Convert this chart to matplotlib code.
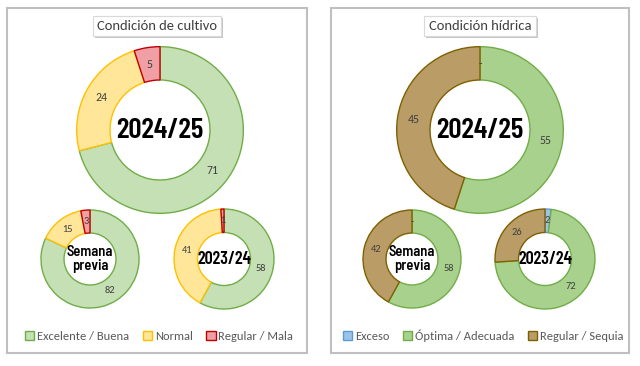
import matplotlib.pyplot as plt
import matplotlib.patheffects as pe
from matplotlib.patches import Patch, Rectangle

# condicion de cultivo (%)
cultivo_labels = ["Excelente / Buena", "Normal", "Regular / Mala"]
cultivo_actual = [71, 24, 5]
cultivo_previa = [82, 15, 3]
cultivo_anterior = [58, 41, 1]

# condicion hidrica (%)
hidrica_labels = ["Exceso", "Óptima / Adecuada", "Regular / Sequia"]
hidrica_actual = [0, 55, 45]
hidrica_previa = [0, 58, 42]
hidrica_anterior = [2, 72, 26]

cultivo_fill = ["#C5E0B4", "#FFE699", "#F0A0A4"]
cultivo_edge = ["#70AD47", "#FFC000", "#C00000"]
hidrica_fill = ["#9DC3E6", "#A9D18E", "#B99C66"]
hidrica_edge = ["#5B9BD5", "#70AD47", "#7F6000"]

label_font = ["Carlito", "Open Sans", "DejaVu Sans"]
year_font = ["Barlow Condensed", "Roboto", "DejaVu Sans"]
week_font = ["Barlow Semi Condensed", "Roboto", "DejaVu Sans"]

W, H = 640, 366
fig = plt.figure(figsize=(W / 100, H / 100), dpi=100)
fig.patch.set_facecolor("white")


def px_axes(cx, cy, r):
    ax = fig.add_axes([(cx - r) / W, (H - cy - r) / H, 2 * r / W, 2 * r / H])
    ax.axis("off")
    return ax


def donut(cx, cy, r, values, fills, edges, center, cfont, csize, ring, lsize):
    ax = px_axes(cx, cy, r)
    wedges, _, autotexts = ax.pie(
        values, colors=fills, startangle=90, counterclock=False, radius=1,
        wedgeprops=dict(width=ring, linewidth=1.0),
        autopct=lambda p: "-" if p < 0.5 else "%d" % round(p),
        pctdistance=1 - ring / 2,
        textprops=dict(fontsize=lsize, color="#404040", family=label_font),
    )
    for w, e in zip(wedges, edges):
        w.set_edgecolor(e)
    ax.set_xlim(-1.02, 1.02)
    ax.set_ylim(-1.02, 1.02)
    ax.set_aspect("equal")
    ax.text(0, 0, center, ha="center", va="center", fontsize=csize,
            fontweight=600, family=cfont, color="black", linespacing=1.0)


def panel(x0, x1, y0, y1):
    fig.patches.append(Rectangle((x0 / W, 1 - y1 / H), (x1 - x0) / W, (y1 - y0) / H,
                                 transform=fig.transFigure, fill=False,
                                 edgecolor="#BFBFBF", linewidth=1.5))


def title(cx, cy, txt):
    t = fig.text(cx / W, 1 - cy / H, txt, ha="center", va="center",
                 fontsize=10.5, family=label_font, color="#404040",
                 bbox=dict(boxstyle="square,pad=0.3", facecolor="white",
                           edgecolor="#D9D9D9", linewidth=0.8))
    t.get_bbox_patch().set_path_effects(
        [pe.SimplePatchShadow(offset=(1.5, -1.5), shadow_rgbFace="#A0A0A0", alpha=0.6),
         pe.Normal()])


def legend(cx, cy, labels, fills, edges):
    handles = [Patch(facecolor=f, edgecolor=e, linewidth=1.0, label=l)
               for l, f, e in zip(labels, fills, edges)]
    fig.legend(handles=handles, loc="center", bbox_to_anchor=(cx / W, 1 - cy / H),
               ncol=3, frameon=False, handlelength=0.75, handleheight=0.75,
               handletextpad=0.2, columnspacing=1.1,
               prop=dict(family=label_font, size=9), labelcolor="#595959")


panel(7, 307, 8, 353)
panel(331, 629, 8, 353)

title(157, 26, "Condición de cultivo")
title(480, 26, "Condición hídrica")

donut(160, 130, 85, cultivo_actual, cultivo_fill, cultivo_edge, "2024/25", year_font, 21, 0.40, 8.5)
donut(90, 259, 50, cultivo_previa, cultivo_fill, cultivo_edge, "Semana\nprevia", week_font, 10.5, 0.47, 7.5)
donut(224, 259, 51, cultivo_anterior, cultivo_fill, cultivo_edge, "2023/24", year_font, 13, 0.47, 7.5)

donut(480, 130, 85, hidrica_actual, hidrica_fill, hidrica_edge, "2024/25", year_font, 21, 0.40, 8.5)
donut(412, 259, 50, hidrica_previa, hidrica_fill, hidrica_edge, "Semana\nprevia", week_font, 10.5, 0.47, 7.5)
donut(545, 259, 51, hidrica_anterior, hidrica_fill, hidrica_edge, "2023/24", year_font, 13, 0.47, 7.5)

legend(159, 336, cultivo_labels, cultivo_fill, cultivo_edge)
legend(483, 336, hidrica_labels, hidrica_fill, hidrica_edge)

fig.savefig("out.png", dpi=100, facecolor="white")
